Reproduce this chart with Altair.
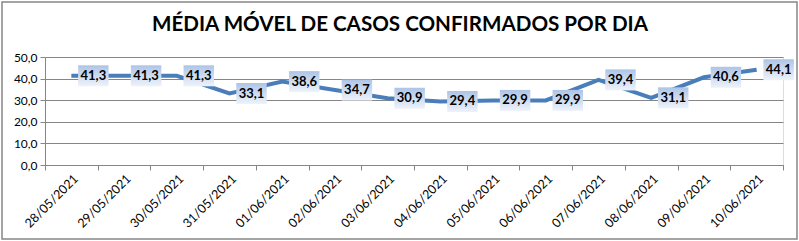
import altair as alt
import pandas as pd

dates = ["28/05/2021", "29/05/2021", "30/05/2021", "31/05/2021", "01/06/2021",
         "02/06/2021", "03/06/2021", "04/06/2021", "05/06/2021", "06/06/2021",
         "07/06/2021", "08/06/2021", "09/06/2021", "10/06/2021"]
values = [41.3, 41.3, 41.3, 33.1, 38.6, 34.7, 30.9, 29.4, 29.9, 29.9, 39.4, 31.1, 40.6, 44.1]
y_ticks = [0, 10, 20, 30, 40, 50]
title_text = "MÉDIA MÓVEL DE CASOS CONFIRMADOS POR DIA"

df = pd.DataFrame({"data": dates, "valor": values})

W, H = 738, 108
FONT = "Lato"

x_enc = alt.X("data:N", sort=dates, title=None,
              scale=alt.Scale(paddingInner=0, paddingOuter=0),
              axis=alt.Axis(labelAngle=-45, labelFontSize=12.5, labelFont=FONT,
                            labelColor="#000000", tickBand="extent", tickSize=5,
                            tickColor="#868686", domainColor="#868686",
                            labelPadding=2, grid=False, labelOverlap=False))
y_enc = alt.Y("valor:Q", title=None,
              scale=alt.Scale(domain=[0, 50], nice=False),
              axis=alt.Axis(values=y_ticks, labelFontSize=12, labelFont=FONT,
                            labelColor="#000000", tickSize=5, tickColor="#868686",
                            domainColor="#868686", gridColor="#868686",
                            labelOverlap=False,
                            labelExpr="replace(format(datum.value, '.1f'), '.', ',')",
                            labelPadding=3))

base = alt.Chart(df)

line = base.mark_line(color="#4a7ebb", strokeWidth=4).encode(x=x_enc, y=y_enc)

box = base.mark_point(
    shape="M-1.45,-1H1.45V1H-1.45Z", size=441, filled=True, opacity=1,
    strokeWidth=0, xOffset=22,
    fill=alt.Gradient(gradient="linear", x1=0, y1=0, x2=0, y2=1,
                      stops=[alt.GradientStop(color="#adc4e7", offset=0),
                             alt.GradientStop(color="#eef3fa", offset=1)])
).encode(x=x_enc, y=y_enc)

labels = base.transform_calculate(
    rot="replace(format(datum.valor, '.1f'), '.', ',')"
).mark_text(font=FONT, fontSize=13, fontWeight="bold", color="#000000",
            xOffset=22, align="center", baseline="middle"
).encode(x=x_enc, y=y_enc, text="rot:N")

one = pd.DataFrame({"t": [title_text]})
frame = alt.Chart(one).mark_rect(fill=None, stroke="#868686", strokeWidth=1.5).encode(
    x=alt.value(-43), x2=alt.value(W + 14), y=alt.value(-55), y2=alt.value(H + 74))

title = alt.Chart(one).mark_text(font=FONT, fontSize=20.6, fontWeight="bold",
                                 color="#000000", align="center",
                                 baseline="alphabetic").encode(
    x=alt.value(355), y=alt.value(-26), text="t:N")

chart = alt.layer(frame, title, line, box, labels).properties(
    width=W, height=H,
    autosize=alt.AutoSizeParams(type="none"),
    padding={"left": 45, "top": 57, "right": 16, "bottom": 76},
).configure_view(stroke=None).configure(background="#ffffff")

chart.save("out.html", embed_options={"renderer": "svg", "actions": False})
